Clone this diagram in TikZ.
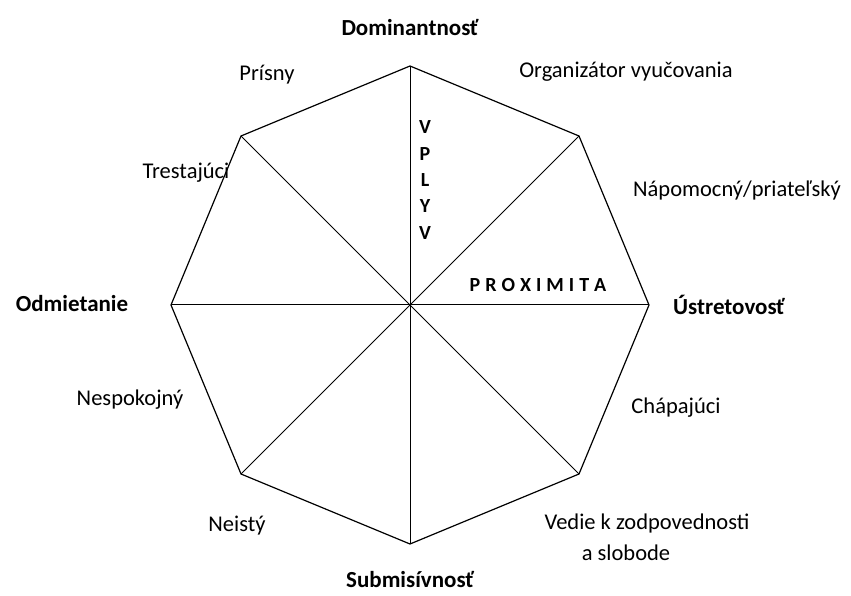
\documentclass[tikz,border=0pt]{standalone}
\usepackage{fontspec}
\setmainfont{Carlito}

\begin{document}
\begin{tikzpicture}[x=1pt,y=1pt,line width=1.2pt,
  font=\fontsize{22.5}{27}\selectfont,
  axislabel/.style={font=\fontsize{23}{27}\selectfont\bfseries},
  rolelabel/.style={inner sep=1pt}]
  \useasboundingbox (0,0) rectangle (851,595);

  % octagon corners, counter-clockwise from the right
  \coordinate (center) at (410,290);
  \foreach \i in {0,...,7}
    \path (center) ++(\i*45:239) coordinate (v\i);

  \draw (v0) -- (v1) -- (v2) -- (v3) -- (v4) -- (v5) -- (v6) -- (v7) -- cycle;
  \foreach \i in {0,...,3} {
    \pgfmathtruncatemacro{\j}{\i+4}
    \draw[line width=1pt] (v\i) -- (v\j);
  }

  % the four poles
  \node[axislabel] (dom) at (410,567) {Dominantnosť};
  \node[axislabel] (sub) at (410,15) {Submisívnosť};
  \node[axislabel] (odm) at (72,291) {Odmietanie};
  \node[axislabel] (ust) at (729,290) {Ústretovosť};

  % dimensions
  \node[font=\fontsize{20}{26.3}\selectfont\bfseries, align=center] (vplyv) at (425,415) {V\\P\\L\\Y\\V};
  \node[font=\fontsize{20}{24}\selectfont\bfseries] (prox) at (538,310)
    {P\hspace{5pt}R\hspace{5pt}O\hspace{5pt}X\hspace{5pt}I\hspace{5pt}M\hspace{5pt}I\hspace{5pt}T\hspace{5pt}A};

  % teacher types
  \node[rolelabel] (prisny) at (267,520) {Prísny};
  \node[rolelabel] (org) at (626,523) {Organizátor vyučovania};
  \node[rolelabel] (trest) at (186,422) {Trestajúci};
  \node[rolelabel] (napom) at (737,405) {Nápomocný/priateľský};
  \node[rolelabel] (nespok) at (130,195) {Nespokojný};
  \node[rolelabel] (chap) at (676,187) {Chápajúci};
  \node[rolelabel] (neisty) at (237,69) {Neistý};
  \node[rolelabel] (vedie) at (647,72) {Vedie k zodpovednosti};
  \node[rolelabel] (slob) at (626,42) {a slobode};
\end{tikzpicture}
\end{document}
